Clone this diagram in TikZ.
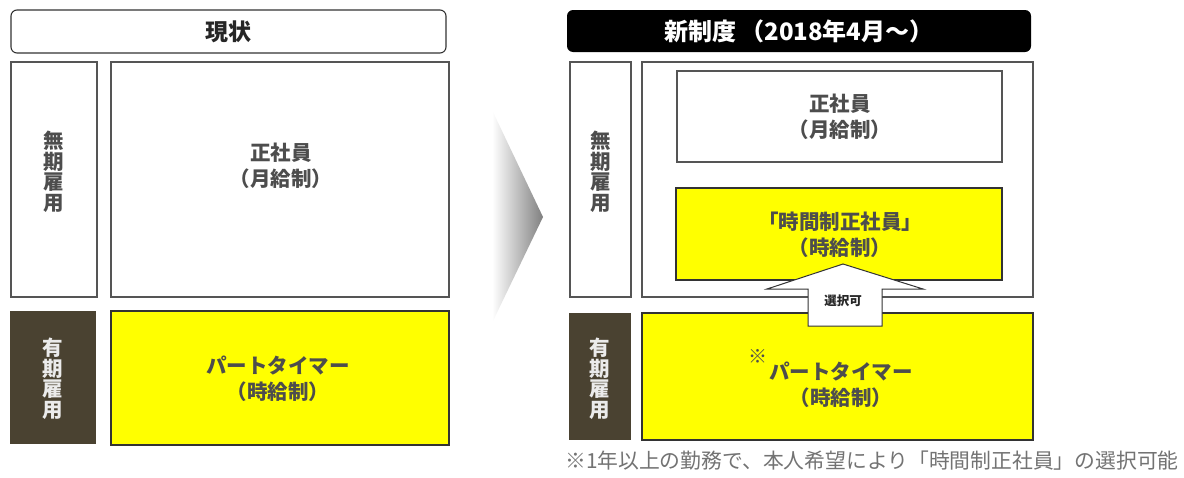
\documentclass[tikz,border=0pt]{standalone}
\usepackage{fontspec}
\setmainfont{Noto Sans CJK JP}
\usetikzlibrary{shadings}
\definecolor{lbl}{HTML}{4A4231}
\definecolor{ylw}{HTML}{FFFF00}
\definecolor{txt}{HTML}{4D4D4D}
\definecolor{edge}{HTML}{555555}
\tikzset{
  box/.style={draw=edge, line width=1.1pt, fill=white, inner sep=0pt},
  ybox/.style={draw=black!80, line width=1.1pt, fill=ylw, inner sep=0pt},
  dbox/.style={fill=lbl, inner sep=0pt},
  vlab/.style={align=center, font=\fontsize{20.5}{20.5}\selectfont\bfseries, text=txt, inner sep=0pt},
  blab/.style={align=center, font=\fontsize{20.5}{26}\selectfont\bfseries, text=txt, inner sep=0pt},
}
\begin{document}
\begin{tikzpicture}[x=1pt,y=-1pt]
\useasboundingbox[fill=white] (0,0) rectangle (1184,477);
% ---------- left: current ----------
\node[draw=black!80, line width=1.1pt, fill=white, rounded corners=6pt, minimum width=435pt, minimum height=43pt, inner sep=0pt,
  font=\fontsize{23}{24}\selectfont\bfseries, text=black!85] (h1) at (228.5,31.5) {現状};
\node[box, minimum width=86pt, minimum height=235pt] (l1) at (54,179.5) {};
\node[vlab] (l1t) at (54,172) {無\\期\\雇\\用};
\node[box, minimum width=338pt, minimum height=235pt] (m1) at (280,179.5) {};
\node[blab] (m1t) at (281,166) {正社員\\（月給制）};
\node[dbox, minimum width=86pt, minimum height=133pt] (l2) at (53,377.5) {};
\node[vlab, text=white!92!black] (l2t) at (53,379) {有\\期\\雇\\用};
\node[ybox, minimum width=338pt, minimum height=134pt] (p1) at (280,378) {};
\node[blab] (p1t) at (278,379) {パートタイマー\\（時給制）};
% ---------- chevron ----------
\begin{scope}
\clip (492,110) -- (543,217) -- (492,323) -- cycle;
\shade[left color=white, right color=black!50] (492,110) rectangle (543,323);
\end{scope}
% ---------- right: new system ----------
\node[fill=black, rounded corners=6pt, minimum width=464pt, minimum height=42pt, inner sep=0pt,
  font=\fontsize{24}{26}\selectfont\bfseries, text=white] (h2) at (799,31) {新制度\,（2018年4月～）};
\node[box, minimum width=61pt, minimum height=235pt] (r1) at (600.5,179.5) {};
\node[vlab] (r1t) at (600.5,172) {無\\期\\雇\\用};
\node[box, minimum width=391pt, minimum height=235pt] (o1) at (837.5,179.5) {};
\node[box, minimum width=325pt, minimum height=91pt] (s1) at (839.5,116.5) {};
\node[blab] (s1t) at (840,117) {正社員\\（月給制）};
\node[ybox, minimum width=326pt, minimum height=92pt] (t1) at (839,234) {};
\node[blab] (t1t) at (840,235) {「時間制正社員」\\（時給制）};
\node[dbox, minimum width=62pt, minimum height=127pt] (r2) at (600,376.5) {};
\node[vlab, text=white!92!black] (r2t) at (600,379) {有\\期\\雇\\用};
\node[ybox, minimum width=391pt, minimum height=127pt] (p2) at (837.5,376.5) {};
\node[blab] (p2t) at (841,385) {パートタイマー\\（時給制）};
\node[font=\fontsize{19}{20}\selectfont, text=txt, inner sep=0pt] (mark) at (758,356) {※};
% ---------- selectable arrow ----------
\draw[draw=black!80, line width=1pt, fill=white, line join=miter]
  (843,264) -- (923,289) -- (882,289) -- (882,326) -- (808,326) -- (808,289) -- (767,289) -- cycle;
\node[font=\fontsize{12.5}{13}\selectfont\bfseries, text=black!85, inner sep=0pt] (sel) at (843,301) {選択可};
% ---------- footnote ----------
\node[anchor=west, font=\fontsize{20.8}{22}\selectfont, text=black!55, inner sep=0pt] (note) at (565,461)
  {※1年以上の勤務で、本人希望により「時間制正社員」の選択可能};
\end{tikzpicture}
\end{document}
